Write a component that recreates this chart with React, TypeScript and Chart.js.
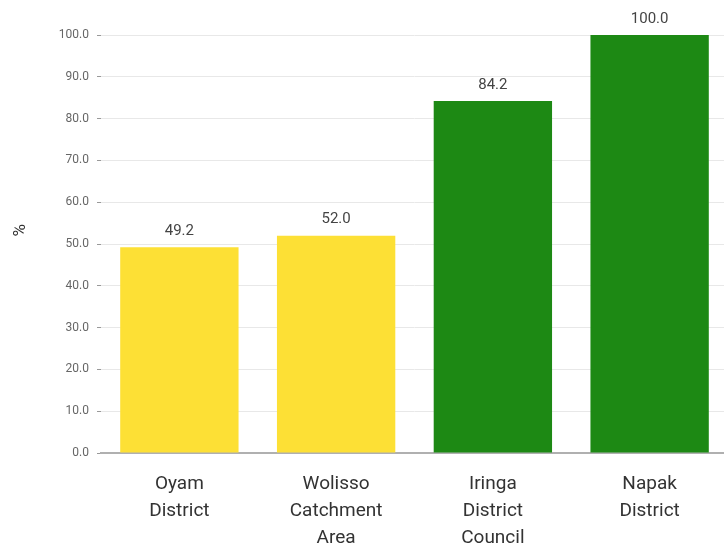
import React, { useEffect, useRef } from "react";
import { Chart, registerables } from "chart.js";

Chart.register(...registerables);

const categories: string[][] = [
  ["Oyam", "District"],
  ["Wolisso", "Catchment", "Area"],
  ["Iringa", "District", "Council"],
  ["Napak", "District"],
];
const values: number[] = [49.2, 52.0, 84.2, 100.0];
const barColors: string[] = ["#FDE035", "#FDE035", "#1D8914", "#1D8914"];
const yTicks: number[] = [0, 10, 20, 30, 40, 50, 60, 70, 80, 90, 100];
const yTitle = "%";

const FONT = "Roboto, 'Noto Sans', sans-serif";

const valueLabels = {
  id: "valueLabels",
  afterDatasetsDraw(chart: any) {
    const ctx = chart.ctx;
    const meta = chart.getDatasetMeta(0);
    ctx.save();
    ctx.font = `15px ${FONT}`;
    ctx.fillStyle = "#444444";
    ctx.textAlign = "center";
    ctx.textBaseline = "middle";
    meta.data.forEach((el: any, i: number) => {
      const v = chart.data.datasets[0].data[i] as number;
      ctx.fillText(v.toFixed(1), el.x, el.y - 16);
    });
    ctx.restore();
  },
};

const yTitlePlugin = {
  id: "yTitlePlugin",
  afterDraw(chart: any) {
    const ctx = chart.ctx;
    const area = chart.chartArea;
    ctx.save();
    ctx.translate(21, area.top + (area.bottom - area.top) * 0.467);
    ctx.rotate(-Math.PI / 2);
    ctx.font = `17px ${FONT}`;
    ctx.fillStyle = "#333333";
    ctx.textAlign = "center";
    ctx.textBaseline = "middle";
    ctx.fillText(yTitle, 0, 0);
    ctx.restore();
  },
};

export default function App() {
  const ref = useRef<HTMLCanvasElement | null>(null);
  useEffect(() => {
    const canvas = ref.current!;
    const chart = new Chart(canvas, {
      type: "bar",
      data: {
        labels: categories,
        datasets: [
          {
            data: values,
            backgroundColor: barColors,
            borderWidth: 0,
            categoryPercentage: 1,
            barPercentage: 0.755,
          },
        ],
      },
      options: {
        responsive: false,
        animation: false,
        layout: { padding: { top: 35, right: 0, bottom: 0, left: 0 } },
        plugins: {
          legend: { display: false },
          tooltip: { enabled: false },
        },
        scales: {
          x: {
            grid: { display: false, drawTicks: false },
            border: { display: true, color: "#b0b0b0", width: 2 },
            ticks: {
              color: "#333333",
              font: { family: FONT, size: 19, lineHeight: 1.42 },
              padding: 18,
              maxRotation: 0,
              autoSkip: false,
            },
            afterFit(scale: any) {
              scale.height = 93;
            },
          },
          y: {
            min: 0,
            max: 100,
            afterBuildTicks(scale: any) {
              scale.ticks = yTicks.map((v) => ({ value: v }));
            },
            grid: {
              color: "#e8e8e8",
              tickColor: "#999999",
              tickLength: 4,
              drawTicks: true,
            },
            border: { display: false },
            ticks: {
              color: "#666666",
              font: { family: FONT, size: 12 },
              padding: 8,
              callback: (v: any) => Number(v).toFixed(1),
            },
            title: { display: false },
            afterFit(scale: any) {
              scale.width = 101;
            },
          },
        },
      },
      plugins: [valueLabels, yTitlePlugin],
    });
    return () => chart.destroy();
  }, []);
  return (
    <div
      style={{
        position: "fixed",
        left: 0,
        top: 0,
        width: 724,
        height: 546,
        overflow: "hidden",
        background: "#ffffff",
      }}
    >
      <canvas ref={ref} width={728} height={546} style={{ width: 728, height: 546 }} />
    </div>
  );
}
